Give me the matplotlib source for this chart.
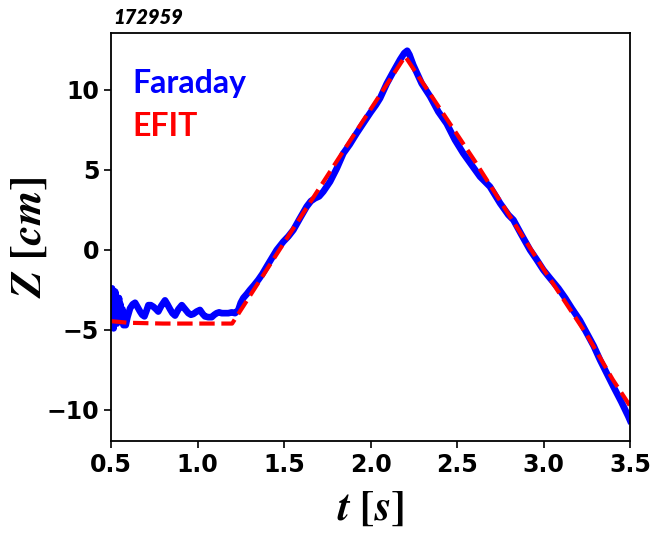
import matplotlib
matplotlib.use('Agg')
import matplotlib.pyplot as plt

# Faraday (blue, solid)
faraday_t = [0.500, 0.503, 0.506, 0.509, 0.512, 0.515, 0.518, 0.521, 0.524, 0.527,
             0.530, 0.534, 0.538, 0.542, 0.546, 0.550, 0.555, 0.560, 0.566, 0.572,
             0.578, 0.585, 0.595, 0.610, 0.625, 0.639, 0.655, 0.668, 0.680, 0.693,
             0.705, 0.716, 0.730, 0.745, 0.760, 0.773, 0.790, 0.812, 0.826, 0.841,
             0.855, 0.870, 0.890, 0.909, 0.928, 0.947, 0.962, 0.976, 0.995, 1.014,
             1.030, 1.043, 1.062, 1.082, 1.097, 1.111, 1.125, 1.140, 1.160, 1.178,
             1.198, 1.217, 1.236, 1.250, 1.265, 1.285, 1.303, 1.327, 1.351, 1.375,
             1.400, 1.430, 1.458, 1.496, 1.525, 1.554, 1.592, 1.631, 1.655, 1.679,
             1.703, 1.727, 1.766, 1.805, 1.843, 1.880, 1.920, 1.960, 2.000, 2.030,
             2.055, 2.094, 2.132, 2.171, 2.195, 2.212, 2.225, 2.247, 2.296, 2.344,
             2.392, 2.440, 2.488, 2.536, 2.585, 2.633, 2.690, 2.749, 2.797, 2.826,
             2.870, 2.922, 2.960, 2.999, 3.040, 3.086, 3.125, 3.163, 3.210, 3.250,
             3.290, 3.327, 3.365, 3.404, 3.450, 3.490, 3.500]
faraday_z = [-3.0, -4.8, -2.4, -4.7, -2.7, -4.9, -2.9, -4.5, -2.6, -4.2,
             -3.1, -4.6, -3.3, -4.4, -3.0, -4.0, -3.4, -4.5, -3.7, -4.7,
             -4.2, -4.7, -4.2, -3.65, -3.4, -3.3, -3.6, -3.85, -4.05, -4.15,
             -3.8, -3.45, -3.45, -3.55, -3.7, -3.85, -3.5, -3.15, -3.4, -3.7,
             -3.95, -4.1, -3.7, -3.45, -3.7, -3.95, -4.05, -4.0, -3.85, -3.75,
             -4.0, -4.15, -4.2, -4.2, -4.05, -3.95, -3.9, -3.95, -3.95, -3.95,
             -3.9, -3.95, -3.75, -3.3, -3.0, -2.75, -2.5, -2.2, -1.875, -1.5,
             -1.04, -0.5, 0.0, 0.52, 0.85, 1.25, 1.98, 2.71, 3.05, 3.23,
             3.35, 3.65, 4.27, 5.1, 6.04, 6.6, 7.3, 7.95, 8.6, 9.05,
             9.48, 10.4, 11.15, 11.9, 12.3, 12.45, 12.2, 11.56, 10.4, 9.6,
             8.64, 7.9, 6.88, 6.04, 5.3, 4.58, 3.96, 2.92, 2.19, 1.875,
             1.0, 0.0, -0.6, -1.25, -1.8, -2.4, -3.0, -3.65, -4.4, -5.2,
             -6.0, -6.88, -7.7, -8.54, -9.5, -10.4, -10.65]

# EFIT (red, dashed)
efit_t = [0.50, 0.60, 0.80, 1.00, 1.20, 1.50, 1.85, 2.20, 2.60, 3.00, 3.25, 3.40, 3.50]
efit_z = [-4.45, -4.55, -4.6, -4.6, -4.6, 0.45, 6.3, 12.1, 5.6, -1.2, -5.3, -8.1, -9.75]

x_ticks = [0.5, 1.0, 1.5, 2.0, 2.5, 3.0, 3.5]
y_ticks = [-10, -5, 0, 5, 10]

plt.rcParams['mathtext.fontset'] = 'stix'

fig = plt.figure(figsize=(6.55, 5.33), dpi=100)
ax = fig.add_axes([0.1695, 0.1726, 0.7924, 0.7655])

ax.plot(faraday_t, faraday_z, color='blue', lw=4.8, solid_joinstyle='round')
ax.plot(efit_t, efit_z, color='red', lw=3, ls='--')

ax.set_xlim(0.5, 3.5)
ax.set_ylim(-11.94, 13.56)
ax.set_xticks(x_ticks)
ax.set_yticks(y_ticks)
ax.set_xticklabels([f'{v:.1f}' for v in x_ticks], fontsize=17, fontweight='bold')
ax.set_yticklabels([f'{v}'.replace('-', '\u2212') for v in y_ticks], fontsize=17, fontweight='bold')
ax.tick_params(direction='out', length=5, width=1.2)
for s in ax.spines.values():
    s.set_linewidth(1.3)

ax.set_xlabel(r'$\mathbfit{t}\ \mathbf{[}\mathbfit{s}\mathbf{]}$', fontsize=31, labelpad=7)
ax.set_ylabel(r'$\mathbfit{Z}\ \mathbf{[}\mathbfit{cm}\mathbf{]}$', fontsize=32, labelpad=-2.5)

ax.text(0.042, 0.875, 'Faraday', color='blue', fontsize=23, fontweight='bold',
        family='Lato', transform=ax.transAxes, va='center', ha='left')
ax.text(0.042, 0.772, 'EFIT', color='red', fontsize=23, fontweight='bold',
        family='Lato', transform=ax.transAxes, va='center', ha='left')
ax.text(0.004, 1.039, '172959', fontsize=14.5, fontweight='heavy', style='italic',
        family='Lato', transform=ax.transAxes, va='center', ha='left')

fig.savefig('out.png', dpi=100)
